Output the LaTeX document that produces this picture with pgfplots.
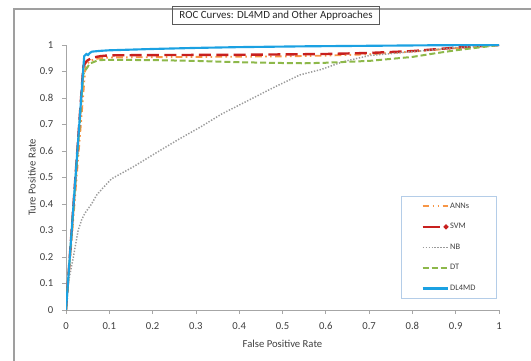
\documentclass[border=0pt]{standalone}
\usepackage{pgfplots}
\pgfplotsset{compat=1.18}
\usepackage{fontspec}
\setmainfont{Carlito}
\definecolor{annC}{HTML}{F79646}
\definecolor{svmC}{HTML}{C8201E}
\definecolor{nbC}{HTML}{9A9A9A}
\definecolor{dtC}{HTML}{8DB84A}
\definecolor{dlC}{HTML}{1BA1E2}
\definecolor{axC}{HTML}{A6A6A6}
\definecolor{txtC}{HTML}{404040}
\definecolor{legC}{HTML}{B4CDE8}
\pgfplotsset{svmlegend/.style={legend image code/.code={\draw[svmC, solid, line width=1.8pt] (0pt,0pt) -- (13pt,0pt); \fill[svmC, solid] (17.5pt,0pt) circle (0.8pt);}}}
\begin{document}
\begin{tikzpicture}
\useasboundingbox (-49.5pt,-37.5pt) rectangle (348.75pt,232.5pt);
\draw[gray!75, line width=1.1pt] (-39pt,-45pt) -- (-39pt,225.75pt) -- (360pt,225.75pt);
\begin{axis}[
 at={(0,0)}, anchor=south west,
 width=324.75pt, height=198.75pt, scale only axis,
 xmin=0, xmax=1, ymin=0, ymax=1,
 axis x line=bottom, axis y line=left,
 axis line style={-, draw=axC, line width=0.6pt},
 xtick={0,0.1,0.2,0.3,0.4,0.5,0.6,0.7,0.8,0.9,1},
 ytick={0,0.1,0.2,0.3,0.4,0.5,0.6,0.7,0.8,0.9,1},
 /pgf/number format/.cd, fixed, precision=1, assume math mode=true, /pgfplots/.cd,
 tick align=outside, major tick length=3pt,
 tick style={draw=axC, line width=0.6pt},
 tick label style={font=\fontsize{8}{9.6}\selectfont, text=txtC},
 xticklabel style={yshift=-3pt},
 yticklabel style={xshift=-3pt},
 label style={font=\fontsize{8}{9.6}\selectfont, text=txtC},
 xlabel={False Positive Rate}, ylabel={Ture Positive Rate},
 xlabel style={at={(axis description cs:0.5,-0.128)}, anchor=center},
 ylabel style={at={(axis description cs:-0.0785,0.5)}, anchor=center},
 title={ROC Curves: DL4MD and Other Approaches},
 title style={at={(axis description cs:0.485,1.081)}, anchor=center, draw=black!65, line width=0.5pt, font=\fontsize{8.2}{9.6}\selectfont, text=black!85, inner xsep=5pt, minimum height=12.75pt},
 legend style={at={(axis description cs:0.774,0.042)}, anchor=south west, draw=legC, line width=0.6pt, fill=white, font=\fontsize{6.3}{7}\selectfont, text=txtC, inner xsep=15pt, inner ysep=3.5pt, row sep=7.4pt, nodes={inner sep=1pt, text height=4.5pt, text depth=1.5pt}},
 legend image code/.code={\draw[#1] (0pt,0pt) -- (18.75pt,0pt);},
 legend cell align=left,
]
\addplot[annC, line width=1.4pt, dash pattern=on 5pt off 2.5pt on 1.2pt off 2.5pt on 1.2pt off 2.5pt] coordinates {
(0,0) (0.045,0.92) (0.055,0.94) (0.07,0.948) (0.1,0.953) (0.3,0.955) (0.5,0.957) (0.6,0.96) (0.7,0.965) (0.8,0.975) (0.9,0.988) (1,1)};
\addlegendentry{ANNs}
\addplot[svmC, line width=1.8pt, dash pattern=on 9pt off 4pt, svmlegend] coordinates {
(0,0) (0.04,0.92) (0.048,0.94) (0.06,0.952) (0.08,0.958) (0.1,0.961) (0.2,0.962) (0.4,0.963) (0.6,0.966) (0.7,0.97) (0.8,0.977) (0.9,0.99) (1,1)};
\addlegendentry{SVM}
\addplot[nbC, line width=1.1pt, dash pattern=on 1pt off 1.2pt] coordinates {
(0,0) (0.005,0.10) (0.017,0.20) (0.028,0.30) (0.036,0.34) (0.044,0.366) (0.059,0.40) (0.071,0.434) (0.085,0.46) (0.105,0.495) (0.155,0.54) (0.2,0.585) (0.258,0.642) (0.31,0.69) (0.36,0.74) (0.42,0.79) (0.48,0.84) (0.54,0.887) (0.59,0.908) (0.64,0.937) (0.7,0.96) (0.8,0.975) (0.9,0.99) (1,1)};
\addlegendentry{NB}
\addplot[dtC, line width=1.5pt, dash pattern=on 4.5pt off 2.2pt] coordinates {
(0,0) (0.04,0.89) (0.045,0.905) (0.055,0.93) (0.075,0.943) (0.1,0.944) (0.2,0.943) (0.3,0.94) (0.4,0.935) (0.5,0.932) (0.55,0.931) (0.6,0.933) (0.7,0.94) (0.8,0.955) (0.85,0.968) (0.9,0.98) (0.95,0.99) (1,1)};
\addlegendentry{DT}
\addplot[dlC, line width=1.6pt] coordinates {
(0,0) (0.042,0.958) (0.047,0.966) (0.051,0.962) (0.055,0.970) (0.06,0.975) (0.08,0.978) (0.1,0.980) (0.2,0.985) (0.3,0.989) (0.4,0.992) (0.55,0.995) (0.7,0.997) (0.85,0.999) (1,1)};
\addlegendentry{DL4MD}
\end{axis}
\end{tikzpicture}
\end{document}
